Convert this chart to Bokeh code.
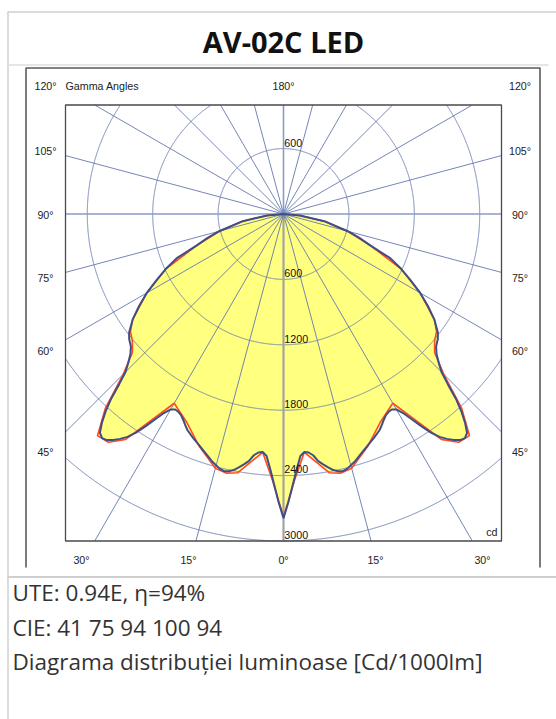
import numpy as np
from bokeh.plotting import figure
from bokeh.models import Range1d
from bokeh.embed import file_html
from bokeh.resources import INLINE
from bokeh.core.properties import value

# ---------------- data ----------------
title_text = "AV-02C LED"

# C0-C180 plane (blue), gamma in degrees from nadir, intensity in cd/1000lm
gamma_c0 = [0, 1, 2, 3, 4, 5, 6, 7, 8, 9, 10, 11, 12, 13, 14, 16, 18, 20, 22, 24,
            25, 26, 27, 28, 29, 30, 31, 32, 33, 34, 35, 36, 37, 38, 39, 40, 41, 42,
            43, 44, 45, 46, 47.5, 49, 51, 52.5, 55, 57.5, 60, 62.5, 65, 67.5, 70,
            72.5, 75, 80, 85, 90]
cd_c0 = [2790, 2640, 2480, 2340, 2225, 2192, 2200, 2230, 2290, 2325, 2360, 2393, 2412,
         2421, 2410, 2365, 2310, 2260, 2215, 2169, 2135, 2100, 2070, 2055, 2050, 2070,
         2130, 2220, 2320, 2420, 2496, 2550, 2595, 2632, 2645, 2620, 2540, 2440, 2320,
         2170, 2050, 1985, 1905, 1855, 1822, 1785, 1690, 1571, 1448, 1313, 1190, 1060,
         850, 730, 610, 380, 150, 0]

# C90-C270 plane (red)
gamma_c90 = [0, 2.5, 5, 10, 12.5, 15, 20, 25, 30, 35, 37.5, 40, 42.5, 45, 47.5, 50,
             52.5, 55, 60, 65, 70, 75, 80, 85, 90]
cd_c90 = [2780, 2430, 2195, 2410, 2435, 2415, 2265, 2105, 2005, 2525, 2640, 2655, 2420,
          2080, 1880, 1810, 1770, 1690, 1448, 1190, 850, 610, 380, 150, 0]

ring_values = [600, 1200, 1800, 2400, 3000, 3600]
ring_labels_lower = [600, 1200, 1800, 2400, 3000]
ring_labels_upper = [600]
spoke_angles = list(range(0, 360, 15))

side_labels = ["120°", "105°", "90°", "75°", "60°", "45°"]
bottom_labels = ["30°", "15°", "0°", "15°", "30°"]
info_lines = ["UTE: 0.94E, η=94%",
              "CIE: 41 75 94 100 94",
              "Diagrama distribuției luminoase [Cd/1000lm]"]

# ---------------- layout ----------------
W, H = 556, 719
K = 4000 / 436.0                 # cd per pixel
CXP, CYP = 283.0, 213.5          # polar centre on the page (px)
X0, X1, Y0, Y1 = -2000, 2000, -3000, 1000   # plot box extent (cd)


def px(xp):
    return (xp - CXP) * K


def py(yp):
    return -(yp - CYP) * K


p = figure(width=W, height=H,
           x_range=Range1d(px(0), px(W)),
           y_range=Range1d(py(H), py(0)),
           output_backend="svg", toolbar_location=None, min_border=0,
           x_axis_location=None, y_axis_location=None,
           outline_line_color=None, background_fill_color="white")
for g in p.grid:
    g.visible = False


def curve_xy(gam, vals):
    g = np.deg2rad(np.array(gam, dtype=float))
    v = np.array(vals, dtype=float)
    gl = -g[::-1]
    vl = v[::-1]
    gg = np.concatenate([gl, g[1:]])
    vv = np.concatenate([vl, v[1:]])
    return vv * np.sin(gg), -vv * np.cos(gg)


bx, by = curve_xy(gamma_c0, cd_c0)
rx, ry = curve_xy(gamma_c90, cd_c90)

YELLOW = "#ffff80"
p.patch(bx, by, fill_color=YELLOW, line_color=None)
p.patch(rx, ry, fill_color=YELLOW, line_color=None)

# ---- grid: circles clipped to the plot box ----
GRID = "#6478ae"
for R in ring_values:
    t = np.deg2rad(np.arange(0, 360, 0.1))
    x = R * np.sin(t)
    y = -R * np.cos(t)
    m = (x >= X0 - 1e-6) & (x <= X1 + 1e-6) & (y >= Y0 - 1e-6) & (y <= Y1 + 1e-6)
    segs, cur = [], []
    for i in range(len(t)):
        if m[i]:
            cur.append(i)
        elif cur:
            segs.append(cur)
            cur = []
    if cur:
        segs.append(cur)
    if m.all():
        segs = [list(range(len(t))) + [0]]
    elif len(segs) > 1 and m[0] and m[-1]:
        segs[0] = segs[-1] + segs[0]
        segs.pop()
    p.multi_line([list(x[s]) for s in segs], [list(y[s]) for s in segs],
                 line_color=GRID, line_width=0.9)

# ---- grid: spokes ----
for a in spoke_angles:
    r = np.deg2rad(a)
    dx, dy = np.sin(r), -np.cos(r)
    cands = []
    if dx > 1e-9:
        cands.append(X1 / dx)
    if dx < -1e-9:
        cands.append(X0 / dx)
    if dy > 1e-9:
        cands.append(Y1 / dy)
    if dy < -1e-9:
        cands.append(Y0 / dy)
    tt = min(cands)
    if a == 0:
        col, lw = "#a3a3a3", 2.2
    elif a in (90, 180, 270):
        col, lw = "#8c9bc6", 1.6
    else:
        col, lw = GRID, 0.9
    p.line([0, tt * dx], [0, tt * dy], line_color=col, line_width=lw)

# ---- curves ----
p.line(rx, ry, line_color="#ff4a2a", line_width=1.6)
p.line(bx, by, line_color="#3f4f86", line_width=2.0)

# ---- plot box ----
p.quad(left=[X0], right=[X1], bottom=[Y0], top=[Y1], fill_color=None,
       line_color="#4a4a4a", line_width=1.3)

# ---- frames ----
LG = "#cfcfcf"
p.line([px(7.5), px(7.5)], [py(11.5), py(719)], line_color=LG, line_width=1.5)
p.line([px(7), px(560)], [py(11.5), py(11.5)], line_color=LG, line_width=1.5)
p.line([px(7), px(560)], [py(576.5), py(576.5)], line_color=LG, line_width=2)
p.line([px(8), px(548)], [py(64.5), py(64.5)], line_color="#e6e6e6", line_width=2)
FR = "#5a5a5a"
p.line([px(25.5), px(25.5), px(539.5), px(539.5)],
       [py(567), py(67.5), py(67.5), py(567)], line_color=FR, line_width=1.6)

# ---- texts ----
F = value("Liberation Sans")
FS = "10.7px"
TC = "#222222"
side_y = [85, 150, 214, 277, 350, 451]
p.text(x=[px(45)] * 6, y=[py(v) for v in side_y], text=side_labels,
       text_font=F, text_font_size=FS, text_align="center",
       text_baseline="middle", text_color=TC)
p.text(x=[px(519.5)] * 6, y=[py(v) for v in side_y], text=side_labels,
       text_font=F, text_font_size=FS, text_align="center",
       text_baseline="middle", text_color=TC)
p.text(x=[px(65)], y=[py(85)], text=["Gamma Angles"], text_font=F,
       text_font_size=FS, text_align="left", text_baseline="middle", text_color=TC)
p.text(x=[px(283)], y=[py(85)], text=["180°"], text_font=F,
       text_font_size=FS, text_align="center", text_baseline="middle", text_color=TC)
bot_x = [81, 188, 283, 375, 482]
p.text(x=[px(v) for v in bot_x], y=[py(559)] * 5, text=bottom_labels, text_font=F,
       text_font_size=FS, text_align="center", text_baseline="middle", text_color=TC)
p.text(x=[px(497)], y=[py(531)], text=["cd"], text_font=F, text_font_size=FS,
       text_align="right", text_baseline="middle", text_color=TC)

p.text(x=[0.8 * K] * len(ring_labels_lower),
       y=[-v + 6.3 * K for v in ring_labels_lower],
       text=[str(v) for v in ring_labels_lower], text_font=F, text_font_size=FS,
       text_align="left", text_baseline="middle", text_color="#111111")
p.text(x=[0.8 * K] * len(ring_labels_upper),
       y=[v + 6.0 * K for v in ring_labels_upper],
       text=[str(v) for v in ring_labels_upper], text_font=F, text_font_size=FS,
       text_align="left", text_baseline="middle", text_color="#111111")

p.text(x=[px(283)], y=[py(41)], text=[title_text], text_font=value("Open Sans"),
       text_font_size="29px", text_font_style="bold", text_align="center",
       text_baseline="middle", text_color="#111111")

info_y = [592, 627, 661]
p.text(x=[px(12)] * 3, y=[py(v) for v in info_y], text=info_lines,
       text_font=value("Open Sans"), text_font_size="22.5px", text_align="left",
       text_baseline="middle", text_color="#333333")

open("out.html", "w").write(file_html(p, INLINE))
